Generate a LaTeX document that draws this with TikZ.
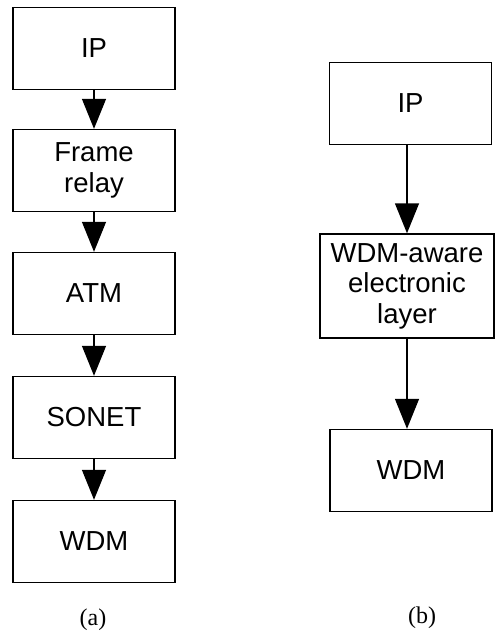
\documentclass[tikz,border=0pt]{standalone}
\usepackage{fontspec}
\setmainfont{Liberation Sans}
\newfontfamily\capfont{Liberation Serif}
\usetikzlibrary{arrows.meta}
\tikzset{
  layer/.style={draw,line width=1.4pt,minimum width=162pt,minimum height=82pt,
    inner sep=0pt,align=center,font=\fontsize{27.5}{30.5}\selectfont},
  down/.style={line width=1.4pt,-{Triangle[width=24pt,length=30pt]}},
  caption/.style={font=\capfont\fontsize{24}{28}\selectfont}
}
\begin{document}
\begin{tikzpicture}[x=1pt,y=-1pt]
	\useasboundingbox (0,0) rectangle (495,637);
	% (a) the layered stack
	\foreach \n/\t/\y in {ipA/IP/48.5, fr/{Frame\\relay}/170.5, atm/ATM/293.5, sonet/SONET/417.5, wdmA/WDM/541.5}
		\node [layer] (\n) at (94,\y) {\t};
	\foreach \a/\b in {ipA/fr, fr/atm, atm/sonet, sonet/wdmA}
		\draw [down] (\a) -- (\b);
	\node [caption] (capA) at (93,620) {(a)};
	% (b) IP directly over WDM
	\node [layer] (ipB) at (410.5,103.5) {IP};
	\node [layer,minimum width=174pt,minimum height=104pt] (aware) at (407,286) {WDM-aware\\electronic\\layer};
	\node [layer] (wdmB) at (411,470.5) {WDM};
	\draw [down] (ipB.south -| aware) -- (aware);
	\draw [down] (aware) -- (aware |- wdmB.north);
	\node [caption] (capB) at (422,618) {(b)};
\end{tikzpicture}
\end{document}
